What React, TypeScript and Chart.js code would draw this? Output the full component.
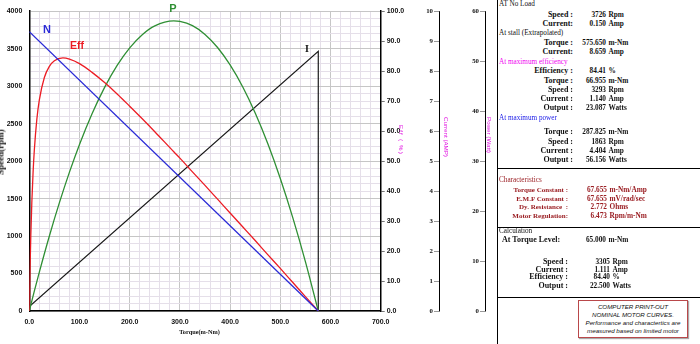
import React, { useEffect, useRef } from "react";
import { Chart, registerables } from "chart.js";

Chart.register(...registerables);

// ---------------- chart data ----------------
const speedTorque = [0, 575.65];
const speedRpm = [3726, 0];

const currentTorque = [0, 575.65, 575.65];
const currentAmp = [0.15, 8.659, 0];

const effTorque = [0, 1, 2, 3, 5, 7.5, 10, 15, 20, 30, 40, 50, 66.955, 80, 100, 125, 150, 175, 200, 225, 250, 287.825, 300, 325, 350, 375, 400, 425, 450, 475, 500, 525, 550, 575.65];
const effPct = [0, 9.9, 18.0, 25.0, 36.0, 46.1, 53.6, 63.9, 70.4, 77.9, 81.6, 83.5, 84.4, 84.0, 82.5, 79.6, 76.2, 72.4, 68.3, 64.1, 59.8, 53.1, 51.0, 46.4, 41.9, 37.3, 32.7, 28.1, 23.5, 18.8, 14.2, 9.5, 4.8, 0];

const powerTorque = [0, 10, 20, 40, 60, 80, 100, 125, 150, 175, 200, 225, 250, 287.825, 300, 325, 350, 375, 400, 425, 450, 475, 500, 525, 550, 575.65];
const powerWatt = [0, 3.96, 7.79, 15.02, 21.68, 27.79, 33.34, 39.48, 44.75, 49.14, 52.66, 55.3, 57.06, 58.06, 57.96, 57.1, 55.35, 52.73, 49.24, 44.88, 39.63, 33.51, 26.51, 18.63, 9.89, 0];

const currentTicks = [0, 1, 2, 3, 4, 5, 6, 7, 8, 9, 10];
const powerTicks = [0, 10, 20, 30, 40, 50, 60];

// ---------------- table text ----------------
const noLoadRows = [["Speed :", "3726", "Rpm"], ["Current:", "0.150", "Amp"]];
const stallRows = [["Torque :", "575.650", "m-Nm"], ["Current:", "8.659", "Amp"]];
const maxEffRows = [["Efficiency :", "84.41", "%"], ["Torque :", "66.955", "m-Nm"], ["Speed :", "3293", "Rpm"], ["Current :", "1.140", "Amp"], ["Output :", "23.087", "Watts"]];
const maxPowerRows = [["Torque :", "287.825", "m-Nm"], ["Speed :", "1863", "Rpm"], ["Current :", "4.404", "Amp"], ["Output :", "56.156", "Watts"]];
const charRows = [["Torque Constant :", "67.655", "m-Nm/Amp"], ["E.M.F Constant :", "67.655", "mV/rad/sec"], ["Dy. Resistance  :", "2.772", "Ohms"], ["Motor Regulation:", "6.473", "Rpm/m-Nm"]];
const calcLevel = ["At Torque Level:", "65.000", "m-Nm"];
const calcRows = [["Speed :", "3305", "Rpm"], ["Current :", "1.111", "Amp"], ["Efficiency :", "84.40", "%"], ["Output :", "22.500", "Watts"]];
const noteLines = ["COMPUTER PRINT-OUT", "NOMINAL MOTOR CURVES.", "Performance and charactertics are", "measured based on limited motor"];

const pts = (xs: number[], ys: number[]) => xs.map((x, i) => ({ x, y: ys[i] }));

const MAJOR = "#c6c6c6";
const MINOR = "#e5dfe9";

const extraAxes = {
  id: "extraAxes",
  afterDraw(chart: any) {
    const ctx = chart.ctx;
    const defs = [
      { id: "yCur", x: 439, ticks: currentTicks },
      { id: "yPow", x: 485, ticks: powerTicks },
    ];
    ctx.save();
    for (const d of defs) {
      const s = chart.scales[d.id];
      ctx.strokeStyle = "#000";
      ctx.lineWidth = 1;
      ctx.beginPath();
      ctx.moveTo(d.x + 0.5, s.top);
      ctx.lineTo(d.x + 0.5, s.bottom + 0.5);
      ctx.stroke();
      ctx.font = 'bold 6.8px "Liberation Serif"';
      ctx.fillStyle = "#111";
      ctx.textAlign = "right";
      ctx.textBaseline = "middle";
      for (const v of d.ticks) {
        const y = Math.round(s.getPixelForValue(v)) + 0.5;
        ctx.strokeStyle = "#999";
        ctx.beginPath();
        ctx.moveTo(d.x - 5, y);
        ctx.lineTo(d.x, y);
        ctx.stroke();
        ctx.fillText(String(v), d.x - 6, y);
      }
    }
    ctx.restore();
  },
};

const tickFont = { family: '"Liberation Sans"', size: 7, weight: "bold" as const };

const serif = '"Liberation Serif", "Times New Roman", serif';

function Txt(props: { x: number; y: number; align?: "left" | "right" | "center"; children: any; style?: any }) {
  const { x, y, align = "left", children, style } = props;
  const tx = align === "left" ? "0" : align === "right" ? "-100%" : "-50%";
  return (
    <div
      style={{
        position: "absolute",
        left: x,
        top: y,
        transform: `translate(${tx}, -50%)`,
        whiteSpace: "pre",
        lineHeight: "10px",
        ...style,
      }}
    >
      {children}
    </div>
  );
}

function Rot(props: { x: number; y: number; deg: number; children: any; style?: any }) {
  return (
    <div
      style={{
        position: "absolute",
        left: props.x,
        top: props.y,
        transform: `translate(-50%, -50%) rotate(${props.deg}deg)`,
        whiteSpace: "pre",
        lineHeight: "9px",
        ...props.style,
      }}
    >
      {props.children}
    </div>
  );
}

export default function App() {
  const ref = useRef<HTMLCanvasElement>(null);

  useEffect(() => {
    const chart = new Chart(ref.current as HTMLCanvasElement, {
      type: "scatter",
      data: {
        datasets: [
          { label: "N", data: pts(speedTorque, speedRpm), yAxisID: "y", borderColor: "#2a2ad6", showLine: true, pointRadius: 0, borderWidth: 1.3 },
          { label: "Eff", data: pts(effTorque, effPct), yAxisID: "yEff", borderColor: "#ec1c24", showLine: true, pointRadius: 0, borderWidth: 1.3, cubicInterpolationMode: "monotone" },
          { label: "P", data: pts(powerTorque, powerWatt), yAxisID: "yPow", borderColor: "#2f8f34", showLine: true, pointRadius: 0, borderWidth: 1.3, cubicInterpolationMode: "monotone" },
          { label: "I", data: pts(currentTorque, currentAmp), yAxisID: "yCur", borderColor: "#1a1a1a", showLine: true, pointRadius: 0, borderWidth: 1.2 },
        ],
      } as any,
      options: {
        responsive: false,
        animation: false,
        devicePixelRatio: 1,
        layout: { padding: { top: 7, left: 0, right: 0, bottom: 0 } },
        plugins: { legend: { display: false }, tooltip: { enabled: false } },
        scales: {
          x: {
            type: "linear",
            position: "bottom",
            min: 0,
            max: 700,
            afterFit: (s: any) => { s.height = 33; },
            ticks: {
              stepSize: 20,
              maxTicksLimit: 100,
              autoSkip: false,
              maxRotation: 0,
              padding: 7,
              color: "#111",
              font: tickFont,
              callback: (v: any) => (Number(v) % 100 === 0 ? Number(v).toFixed(1) : ""),
            },
            grid: {
              drawTicks: false,
              color: (c: any) => (c.tick && c.tick.value % 100 === 0 ? MAJOR : MINOR),
            },
            border: { color: "#000", width: 1.5 },
          },
          y: {
            type: "linear",
            position: "left",
            min: 0,
            max: 4000,
            afterFit: (s: any) => { s.width = 29.3; },
            ticks: {
              stepSize: 100,
              maxTicksLimit: 100,
              autoSkip: false,
              padding: 7,
              color: "#111",
              font: tickFont,
              callback: (v: any) => (Number(v) % 500 === 0 ? String(v) : ""),
            },
            grid: {
              drawTicks: false,
              color: (c: any) => (c.tick && c.tick.value % 500 === 0 ? MAJOR : MINOR),
            },
            border: { color: "#000", width: 1.5 },
          },
          yEff: {
            type: "linear",
            position: "right",
            min: 0,
            max: 100,
            afterFit: (s: any) => { s.width = 497 - 380.7; },
            ticks: {
              stepSize: 10,
              autoSkip: false,
              padding: 2,
              color: "#111",
              font: tickFont,
              callback: (v: any) => Number(v).toFixed(1),
            },
            grid: { drawOnChartArea: false, drawTicks: true, tickLength: 4, tickColor: "#777" },
            border: { color: "#000", width: 1.5 },
          },
          yCur: { type: "linear", position: "right", min: 0, max: 10, display: false },
          yPow: { type: "linear", position: "right", min: 0, max: 60, display: false },
        },
      } as any,
      plugins: [extraAxes as any],
    });
    return () => chart.destroy();
  }, []);

  const hdr = { fontFamily: serif, fontSize: 7.2, fontWeight: "normal", color: "#111" };
  const lab = { fontFamily: serif, fontSize: 8, fontWeight: "bold", color: "#111" };
  const labSmall = { fontFamily: serif, fontSize: 7, fontWeight: "bold", color: "#111" };
  const val = { fontFamily: serif, fontSize: 7.3, fontWeight: "bold", color: "#111" };

  const renderRows = (rows: string[][], ys: number[], labelRight: number, numRight: number, color: string, labStyle: any) =>
    rows.map((r, i) => (
      <React.Fragment key={r[0] + i + ys[i]}>
        <Txt x={labelRight} y={ys[i]} align="right" style={{ ...labStyle, color }}>{r[0]}</Txt>
        <Txt x={numRight} y={ys[i]} align="right" style={{ ...val, color }}>{r[1]}</Txt>
        <Txt x={numRight + 2.5} y={ys[i]} style={{ ...val, color }}>{r[2]}</Txt>
      </React.Fragment>
    ));

  const dark = "#111";
  const charCol = "#9a1d22";

  return (
    <div style={{ position: "absolute", left: 0, top: 0, width: 700, height: 344, background: "#fff", overflow: "hidden" }}>
      <canvas ref={ref} width={497} height={344} style={{ position: "absolute", left: 0, top: 0, width: 497, height: 344 }} />

      {/* curve labels */}
      <Txt x={47} y={29} align="center" style={{ fontFamily: '"Liberation Sans"', fontWeight: "bold", fontSize: 11, color: "#2a2ad6" }}>N</Txt>
      <Txt x={77} y={45} align="center" style={{ fontFamily: '"Liberation Sans"', fontWeight: "bold", fontSize: 10.5, color: "#ec1c24" }}>Eff</Txt>
      <Txt x={173} y={7.5} align="center" style={{ fontFamily: '"Liberation Sans"', fontWeight: "bold", fontSize: 11, color: "#2f8f34" }}>P</Txt>
      <Txt x={307} y={48.5} align="center" style={{ fontFamily: serif, fontWeight: "bold", fontSize: 10, color: "#111" }}>I</Txt>

      {/* axis titles */}
      <Txt x={199.5} y={331.5} align="center" style={{ fontFamily: serif, fontWeight: "bold", fontSize: 6.3, color: "#111" }}>Torque(m-Nm)</Txt>
      <Rot x={0.5} y={152} deg={-90} style={{ fontFamily: serif, fontWeight: "bold", fontSize: 9, color: "#111" }}>Speed(rpm)</Rot>
      <Rot x={400.5} y={140} deg={90} style={{ fontFamily: '"Liberation Sans"', fontSize: 6.2, color: "#e010e0", letterSpacing: 1.2 }}>Eff ( %)</Rot>
      <Rot x={446} y={136.5} deg={90} style={{ fontFamily: '"Liberation Sans"', fontSize: 6.2, color: "#e010e0" }}>Current (AMP)</Rot>
      <Rot x={489} y={135} deg={90} style={{ fontFamily: '"Liberation Sans"', fontSize: 6.2, color: "#e010e0" }}>Power (Watt)</Rot>

      {/* table frame */}
      <div style={{ position: "absolute", left: 497, top: 0, width: 1, height: 344, background: "#000" }} />
      <div style={{ position: "absolute", left: 497, top: 168, width: 203, height: 1, background: "#000" }} />
      <div style={{ position: "absolute", left: 497, top: 227, width: 203, height: 1, background: "#000" }} />
      <div style={{ position: "absolute", left: 497, top: 297, width: 203, height: 1, background: "#000" }} />

      <Txt x={499} y={4} style={hdr}>AT No Load</Txt>
      {renderRows(noLoadRows, [15, 23.7], 573, 606, dark, lab)}
      <Txt x={499} y={33.3} style={hdr}>At stall (Extrapolated)</Txt>
      {renderRows(stallRows, [42.7, 51.7], 573, 606, dark, lab)}
      <Txt x={499} y={62.3} style={{ ...hdr, color: "#f000f0" }}>At maximum efficiency</Txt>
      {renderRows(maxEffRows, [71.3, 80.7, 90, 98.7, 108], 573, 606, dark, lab)}
      <Txt x={499} y={117.7} style={{ ...hdr, color: "#2020e8" }}>At maximum power</Txt>
      {renderRows(maxPowerRows, [131.5, 142.3, 151, 159.7], 573, 606, dark, lab)}

      <Txt x={499} y={180} style={{ ...hdr, color: charCol }}>Characteristics</Txt>
      {renderRows(charRows, [190.3, 198.7, 207, 215.7], 568, 607, charCol, labSmall)}

      <Txt x={499} y={231} style={hdr}>Calculation</Txt>
      <Txt x={502} y={240} style={lab}>{calcLevel[0]}</Txt>
      <Txt x={606} y={240} align="right" style={val}>{calcLevel[1]}</Txt>
      <Txt x={608.5} y={240} style={val}>{calcLevel[2]}</Txt>
      {renderRows(calcRows, [261.7, 269.7, 277.3, 286], 568, 610, dark, lab)}

      {/* note box */}
      <div
        style={{
          position: "absolute",
          left: 578,
          top: 300,
          width: 108,
          height: 36,
          border: "1px solid #b9484a",
          boxShadow: "1px 1px 1px #aaa",
          background: "#fff",
          display: "flex",
          flexDirection: "column",
          alignItems: "center",
          justifyContent: "center",
          fontFamily: '"Liberation Sans"',
          fontStyle: "italic",
          fontSize: 6.2,
          lineHeight: "8px",
          color: "#111",
        }}
      >
        {noteLines.map((l) => (
          <div key={l} style={{ whiteSpace: "pre" }}>{l}</div>
        ))}
      </div>
    </div>
  );
}
